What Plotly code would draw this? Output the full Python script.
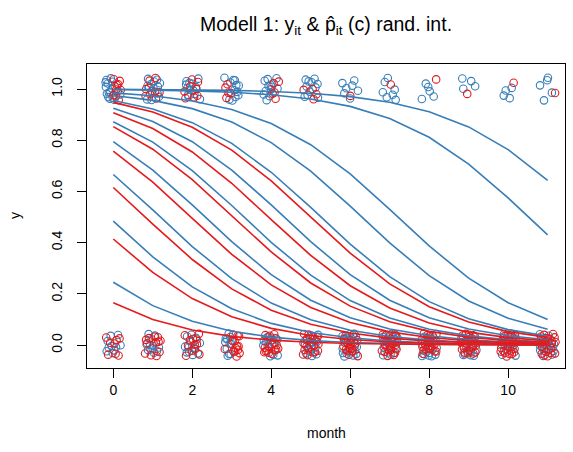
import plotly.graph_objects as go

# --- data -------------------------------------------------------------
months = list(range(12))
x_ticks = [0, 2, 4, 6, 8, 10]
y_ticks = [0.0, 0.2, 0.4, 0.6, 0.8, 1.0]
y_tick_text = ["0.0", "0.2", "0.4", "0.6", "0.8", "1.0"]

# observed outcomes: number of y=1 / y=0 observations per month and group
ones_blue = [16, 14, 13, 12, 12, 11, 7, 7, 5, 4, 4, 5]
ones_red = [10, 8, 8, 5, 5, 4, 1, 1, 1, 1, 1, 1]
zeros_blue = [10, 12, 12, 12, 14, 16, 18, 18, 18, 18, 18, 18]
zeros_red = [8, 12, 12, 14, 16, 18, 20, 20, 20, 20, 20, 20]

# fitted subject-specific probabilities p_it (random intercept), per month
blue_fits = [
    [0.9991, 0.9983, 0.9970, 0.9947, 0.9905, 0.9832, 0.9704, 0.9483, 0.9113, 0.8520, 0.7631, 0.6434],
    [0.9978, 0.9960, 0.9929, 0.9874, 0.9777, 0.9608, 0.9321, 0.8850, 0.8115, 0.7068, 0.5744, 0.4305],
    [0.9849, 0.9734, 0.9535, 0.9198, 0.8653, 0.7825, 0.6682, 0.5300, 0.3870, 0.2611, 0.1652, 0.0998],
    [0.9747, 0.9556, 0.9234, 0.8710, 0.7908, 0.6792, 0.5424, 0.3989, 0.2709, 0.1722, 0.1043, 0.0612],
    [0.9548, 0.9220, 0.8687, 0.7875, 0.6748, 0.5374, 0.3941, 0.2670, 0.1694, 0.1025, 0.0601, 0.0346],
    [0.9248, 0.8733, 0.7941, 0.6835, 0.5474, 0.4037, 0.2749, 0.1751, 0.1062, 0.0624, 0.0359, 0.0204],
    [0.8721, 0.7925, 0.6814, 0.5449, 0.4013, 0.2729, 0.1736, 0.1053, 0.0618, 0.0356, 0.0202, 0.0114],
    [0.7941, 0.6835, 0.5474, 0.4037, 0.2749, 0.1751, 0.1062, 0.0624, 0.0359, 0.0204, 0.0115, 0.0065],
    [0.6660, 0.5275, 0.3846, 0.2592, 0.1638, 0.0989, 0.0579, 0.0332, 0.0189, 0.0107, 0.0060, 0.0034],
    [0.4840, 0.3444, 0.2272, 0.1414, 0.0844, 0.0491, 0.0281, 0.0159, 0.0090, 0.0050, 0.0028, 0.0016],
    [0.2451, 0.1538, 0.0924, 0.0539, 0.0309, 0.0176, 0.0099, 0.0056, 0.0031, 0.0018, 0.0010, 0.0006],
]
red_fits = [
    [0.9478, 0.9105, 0.8507, 0.7613, 0.6411, 0.5000, 0.3589, 0.2387, 0.1493, 0.0895, 0.0522, 0.0299],
    [0.9072, 0.8455, 0.7540, 0.6318, 0.4900, 0.3498, 0.2315, 0.1443, 0.0863, 0.0502, 0.0288, 0.0163],
    [0.8532, 0.7649, 0.6457, 0.5050, 0.3635, 0.2423, 0.1519, 0.0911, 0.0532, 0.0305, 0.0173, 0.0098],
    [0.7577, 0.6365, 0.4950, 0.3543, 0.2351, 0.1468, 0.0879, 0.0512, 0.0293, 0.0166, 0.0094, 0.0053],
    [0.6154, 0.4725, 0.3340, 0.2193, 0.1359, 0.0809, 0.0470, 0.0269, 0.0152, 0.0086, 0.0048, 0.0027],
    [0.4141, 0.2835, 0.1814, 0.1104, 0.0650, 0.0374, 0.0213, 0.0120, 0.0068, 0.0038, 0.0021, 0.0012],
    [0.1652, 0.0998, 0.0584, 0.0336, 0.0191, 0.0108, 0.0061, 0.0034, 0.0019, 0.0011, 0.0006, 0.0003],
]

BLUE = "#377EB8"
RED = "#E41A1C"
FONT = "Liberation Sans, Arial, Helvetica, sans-serif"


# --- jittered scatter of the raw 0/1 outcomes ---------------------------
def radical_inverse(n, base):
    """Van der Corput radical inverse, used for an even, deterministic jitter."""
    inv, f = 0.0, 1.0 / base
    while n > 0:
        n, d = divmod(n, base)
        inv += d * f
        f /= base
    return inv


X_AMT, Y_AMT = 0.2, 0.045

pts = {"b": ([], []), "r": ([], [])}
seq = 7
for outcome, cnt_b, cnt_r in ((1, ones_blue, ones_red), (0, zeros_blue, zeros_red)):
    for m, nb, nr in zip(months, cnt_b, cnt_r):
        total = nb + nr
        labels = ["b"] * nb + ["r"] * nr
        # spread the two colours through the cluster
        order = sorted(range(total), key=lambda i: (i * 0.6180339887) % 1.0)
        for idx in order:
            seq += 1
            jx = radical_inverse(seq, 2) * 2 - 1
            jy = radical_inverse(seq, 3) * 2 - 1
            xs, ys = pts[labels[idx]]
            xs.append(m + X_AMT * jx)
            ys.append(outcome + Y_AMT * jy)

fig = go.Figure()
for key, col in (("b", BLUE), ("r", RED)):
    xs, ys = pts[key]
    fig.add_trace(go.Scatter(
        x=xs, y=ys, mode="markers",
        marker=dict(symbol="circle-open", size=7.5, color=col, line=dict(width=1.1, color=col)),
        showlegend=False, hoverinfo="skip",
    ))

# --- fitted curves ----------------------------------------------------
for fit in blue_fits:
    fig.add_trace(go.Scatter(x=months, y=fit, mode="lines",
                             line=dict(color=BLUE, width=1.6), showlegend=False, hoverinfo="skip"))
for fit in red_fits:
    fig.add_trace(go.Scatter(x=months, y=fit, mode="lines",
                             line=dict(color=RED, width=1.6), showlegend=False, hoverinfo="skip"))

# --- layout -----------------------------------------------------------
W, H = 573, 452
L, R, T, B = 87, 8, 64, 84
pw, ph = W - L - R, H - T - B

axis_common = dict(
    showline=True, linecolor="black", linewidth=1, mirror=True,
    ticks="outside", ticklen=9, tickwidth=1, tickcolor="black",
    showgrid=False, zeroline=False,
    tickfont=dict(family=FONT, size=14, color="black"),
)

fig.update_layout(
    width=W, height=H,
    margin=dict(l=L, r=R, t=T, b=B),
    paper_bgcolor="white", plot_bgcolor="white",
    font=dict(family=FONT, color="black"),
    title=dict(
        text="Modell 1: y<sub>it</sub> & p\u0302<sub>it</sub> (c) rand. int.",
        x=(L + pw / 2) / W, xanchor="center",
        y=1 - 24 / H, yanchor="middle",
        font=dict(family=FONT, size=19.5, color="black"),
    ),
    xaxis=dict(range=[-0.666, 11.44], tickvals=x_ticks, **axis_common),
    yaxis=dict(range=[-0.0898, 1.0977], tickvals=y_ticks, ticktext=y_tick_text,
               tickangle=-90, ticklabelstandoff=9, **axis_common),
    annotations=[
        dict(text="month", xref="paper", yref="paper", x=0.5, y=-65 / ph,
             xanchor="center", yanchor="middle", showarrow=False,
             font=dict(family=FONT, size=14, color="black")),
        dict(text="y", xref="paper", yref="paper", x=-72 / pw, y=0.5,
             xanchor="center", yanchor="middle", textangle=-90, showarrow=False,
             font=dict(family=FONT, size=14, color="black")),
    ],
)

fig.write_html("out.html")
